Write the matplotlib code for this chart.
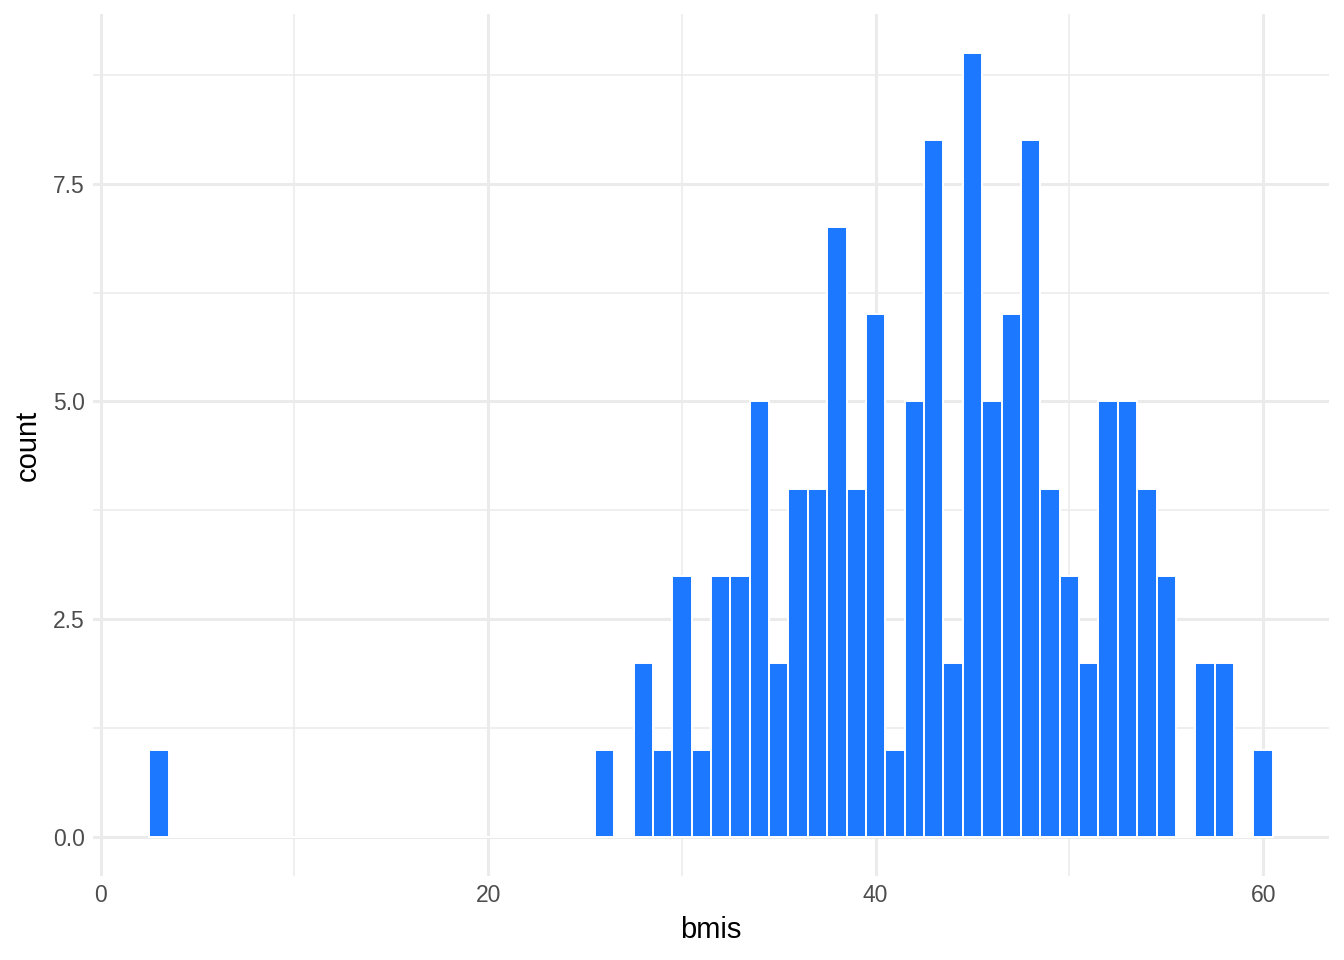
import numpy as np
import matplotlib
matplotlib.use('Agg')
from matplotlib import pyplot as plt

plt.rcParams['font.family'] = ['Liberation Sans', 'DejaVu Sans']

# histogram of bmis, binwidth 1
bin_centers = np.arange(3, 61)
counts = np.zeros(len(bin_centers))
observed = {3: 1, 26: 1, 28: 2, 29: 1, 30: 3, 31: 1, 32: 3, 33: 3, 34: 5, 35: 2,
            36: 4, 37: 4, 38: 7, 39: 4, 40: 6, 41: 1, 42: 5, 43: 8, 44: 2, 45: 9,
            46: 5, 47: 6, 48: 8, 49: 4, 50: 3, 51: 2, 52: 5, 53: 5, 54: 4, 55: 3,
            57: 2, 58: 2, 60: 1}
for k, v in observed.items():
    counts[k - 3] = v

x_ticks = [0, 20, 40, 60]
x_minor = [10, 30, 50]
y_ticks = [0.0, 2.5, 5.0, 7.5]
y_minor = [1.25, 3.75, 6.25, 8.75]

fig = plt.figure(figsize=(13.44, 9.6), dpi=100)
ax = fig.add_axes([93 / 1344, 1 - 876 / 960, (1329 - 93) / 1344, (876 - 14) / 960])

grid_col = '#EBEBEB'
for x in x_ticks:
    ax.axvline(x, color=grid_col, lw=2.2, zorder=0)
for x in x_minor:
    ax.axvline(x, color=grid_col, lw=1.1, zorder=0)
for y in y_ticks:
    ax.axhline(y, color=grid_col, lw=2.2, zorder=0)
for y in y_minor:
    ax.axhline(y, color=grid_col, lw=1.1, zorder=0)

ax.bar(bin_centers, counts, width=1.0, color='#1C78FF', edgecolor='white', linewidth=1.4, zorder=2)

ax.set_xlim(-0.4, 63.4)
ax.set_ylim(-0.45, 9.45)
for s in ax.spines.values():
    s.set_visible(False)
ax.set_xticks(x_ticks)
ax.set_xticklabels([str(t) for t in x_ticks])
ax.set_yticks(y_ticks)
ax.set_yticklabels(['%.1f' % t for t in y_ticks])
ax.tick_params(length=0, labelsize=16.5, labelcolor='#4D4D4D', pad=6)
ax.set_xlabel('bmis', fontsize=21, labelpad=6)
ax.set_ylabel('count', fontsize=21, labelpad=8)

fig.savefig('out.png', dpi=100)
